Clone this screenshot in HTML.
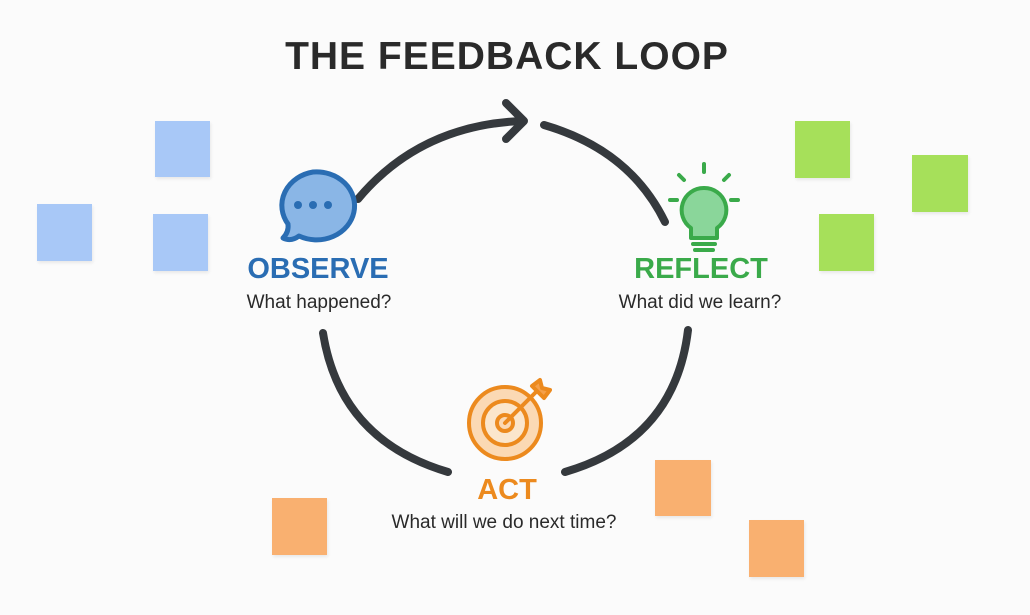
<!DOCTYPE html>
<html><head><meta charset="utf-8"><style>
html,body{margin:0;padding:0;background:#fbfbfb;}
body{width:1030px;height:615px;position:relative;overflow:hidden;font-family:"Liberation Sans",sans-serif;}
.n{position:absolute;box-shadow:1px 2px 3px rgba(0,0,0,0.08);}
.b{background:#a8c8f7}.g{background:#a6e05a}.o{background:#f9b070}
.t{position:absolute;text-align:center;white-space:nowrap;}
</style></head><body>
<div class="t" style="left:0;width:1014px;top:35px;font-size:39px;font-weight:bold;color:#2a2a2a;letter-spacing:1px;">THE FEEDBACK LOOP</div>
<div class="n b" style="left:155px;top:121px;width:55px;height:56px"></div>
<div class="n b" style="left:37px;top:204px;width:55px;height:57px"></div>
<div class="n b" style="left:153px;top:214px;width:55px;height:57px"></div>
<div class="n g" style="left:795px;top:121px;width:55px;height:57px"></div>
<div class="n g" style="left:912px;top:155px;width:56px;height:57px"></div>
<div class="n g" style="left:819px;top:214px;width:55px;height:57px"></div>
<div class="n o" style="left:272px;top:498px;width:55px;height:57px"></div>
<div class="n o" style="left:655px;top:460px;width:56px;height:56px"></div>
<div class="n o" style="left:749px;top:520px;width:55px;height:57px"></div>
<svg width="1030" height="615" style="position:absolute;left:0;top:0" fill="none" stroke-linecap="round" stroke-linejoin="round">
<g stroke="#35393d" stroke-width="8">
<path d="M358 199 Q420 125 522 121"/>
<path d="M506 103 L524 121 L506 139"/>
<path d="M544 125 Q630 150 665 222"/>
<path d="M323 333 Q340 440 448 472"/>
<path d="M565 472 Q675 440 688 330"/>
</g>
<!-- speech bubble -->
<path d="M313 172 a38 34 0 1 1 -14 64 q-8 6 -16 2 q6 -6 5 -14 a38 34 0 0 1 25 -52z" fill="#8ab6e6" stroke="#2a6db3" stroke-width="5"/>
<g fill="#2a6db3"><circle cx="298" cy="205" r="4"/><circle cx="313" cy="205" r="4"/><circle cx="328" cy="205" r="4"/></g>
<!-- bulb -->
<g stroke="#3aaa4a" stroke-width="4">
<path d="M704 188 a22 22 0 0 1 13 40 v10 h-26 v-10 a22 22 0 0 1 13 -40z" fill="#8ad69a"/>
<path d="M693 244 h22 M695 250 h18"/>
<path d="M704 172 v-8 M684 180 l-5 -5 M724 180 l5 -5 M677 200 h-7 M731 200 h7"/>
</g>
<!-- target -->
<g stroke="#ec8a1e" stroke-width="4">
<circle cx="505" cy="423" r="36" fill="#fbd9b4"/>
<circle cx="505" cy="423" r="22" fill="#fbe6cc"/>
<circle cx="505" cy="423" r="8" fill="#fbd9b4"/>
<path d="M505 423 L540 388"/>
<path d="M532 386 l8 -6 l2 8 l8 2 l-6 8 z" fill="#f5a04a"/>
</g>
</svg>
<div class="t" style="left:218px;width:200px;top:253px;font-size:29px;font-weight:bold;color:#2a6db3;">OBSERVE</div>
<div class="t" style="left:219px;width:200px;top:292px;font-size:19px;color:#2a2a2a;">What happened?</div>
<div class="t" style="left:601px;width:200px;top:253px;font-size:29px;font-weight:bold;color:#3aaa4a;">REFLECT</div>
<div class="t" style="left:600px;width:200px;top:292px;font-size:19px;color:#2a2a2a;">What did we learn?</div>
<div class="t" style="left:407px;width:200px;top:474px;font-size:29px;font-weight:bold;color:#ec8a1e;">ACT</div>
<div class="t" style="left:354px;width:300px;top:512px;font-size:19px;color:#2a2a2a;">What will we do next time?</div>
</body></html>
